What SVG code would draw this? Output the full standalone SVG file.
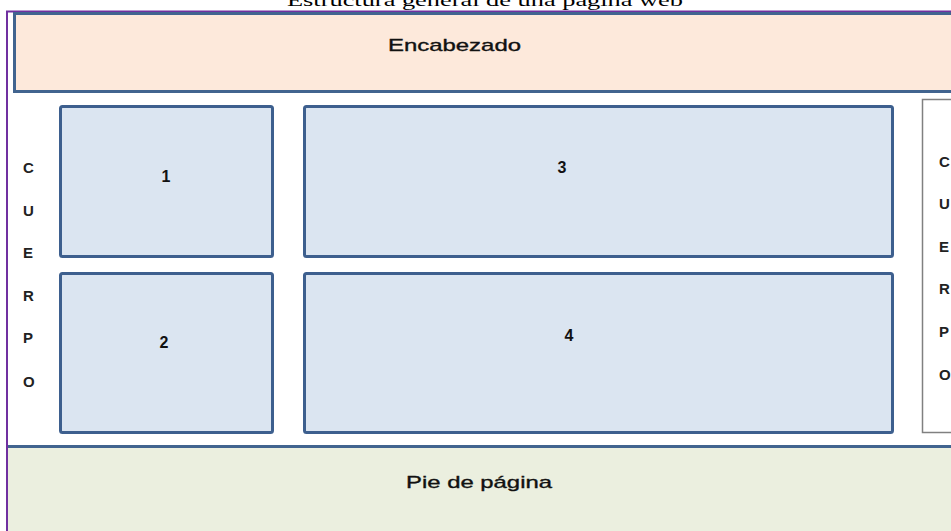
<svg xmlns="http://www.w3.org/2000/svg" width="951" height="531" viewBox="0 0 951 531">
  <style>
    .box { fill: #dbe5f1; stroke: #3d5f8e; stroke-width: 3; }
    .num { font-family: "Liberation Sans", Arial, sans-serif; font-size: 16px; font-weight: bold; fill: #111; text-anchor: middle; }
    .let { font-family: "Liberation Sans", Arial, sans-serif; font-size: 15px; font-weight: bold; fill: #222; }
    .lbl { font-family: "Liberation Sans", Arial, sans-serif; font-size: 17px; fill: #111; stroke: #111; stroke-width: 0.35; }
  </style>
  <rect x="0" y="0" width="951" height="531" fill="#ffffff"/>
  <text x="287" y="6" font-family="'Liberation Serif', 'Times New Roman', serif" font-size="17" fill="#000" textLength="396" lengthAdjust="spacingAndGlyphs">Estructura general de una página web</text>

  <g id="frame">
    <line x1="6" y1="11.5" x2="951" y2="11.5" stroke="#7030a0" stroke-width="2"/>
    <line x1="7" y1="11" x2="7" y2="531" stroke="#7030a0" stroke-width="2"/>
  </g>

  <g id="encabezado">
    <rect x="14.5" y="13.5" width="950" height="78" fill="#fde9db" stroke="#41648f" stroke-width="3"/>
    <text class="lbl" x="388" y="51" textLength="133" lengthAdjust="spacingAndGlyphs">Encabezado</text>
  </g>

  <g id="cuerpo-izq">
    <text class="let" x="23" y="173">C</text>
    <text class="let" x="23" y="216">U</text>
    <text class="let" x="23" y="258">E</text>
    <text class="let" x="23" y="301">R</text>
    <text class="let" x="23" y="343">P</text>
    <text class="let" x="23" y="387">O</text>
  </g>

  <g id="n1">
    <rect class="box" x="60.5" y="106.5" width="212" height="150" rx="2"/>
    <text class="num" x="166" y="182">1</text>
  </g>
  <g id="n2">
    <rect class="box" x="60.5" y="273.5" width="212" height="159" rx="2"/>
    <text class="num" x="164" y="348">2</text>
  </g>
  <g id="n3">
    <rect class="box" x="304.5" y="106.5" width="588" height="150" rx="2"/>
    <text class="num" x="562" y="173">3</text>
  </g>
  <g id="n4">
    <rect class="box" x="304.5" y="273.5" width="588" height="159" rx="2"/>
    <text class="num" x="569" y="341">4</text>
  </g>

  <g id="cuerpo-der">
    <rect x="922.5" y="99.5" width="40" height="333" fill="#ffffff" stroke="#808080" stroke-width="1.5"/>
    <text class="let" x="939" y="167">C</text>
    <text class="let" x="939" y="209">U</text>
    <text class="let" x="939" y="252">E</text>
    <text class="let" x="939" y="294">R</text>
    <text class="let" x="939" y="337">P</text>
    <text class="let" x="939" y="380">O</text>
  </g>

  <g id="pie">
    <rect x="8" y="447" width="950" height="90" fill="#ebefdf"/>
    <line x1="8" y1="446.5" x2="951" y2="446.5" stroke="#41648f" stroke-width="3"/>
    <text class="lbl" x="406" y="488" textLength="146" lengthAdjust="spacingAndGlyphs">Pie de página</text>
  </g>

  <g id="connectors"></g>
</svg>
